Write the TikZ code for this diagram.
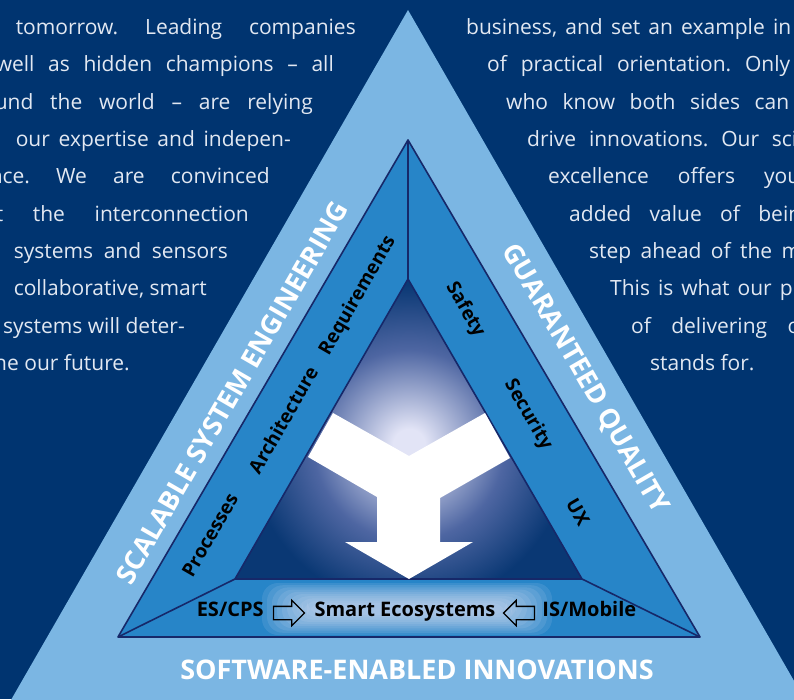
\documentclass[tikz,border=0pt]{standalone}
\usepackage{fontspec}
\setmainfont{Open Sans}
\usepackage{xcolor}
\usetikzlibrary{positioning,shapes.arrows}

\definecolor{navybg}{RGB}{0,52,112}
\definecolor{lightband}{RGB}{123,182,227}
\definecolor{midband}{RGB}{39,133,200}
\definecolor{edgeline}{RGB}{22,40,105}
\definecolor{innerdark}{RGB}{10,56,116}
\definecolor{glowmid}{RGB}{78,102,162}
\definecolor{glowc}{RGB}{226,228,246}
\definecolor{textgrey}{RGB}{226,232,242}

% radial glow of the inner triangle, at its natural size
\pgfdeclareradialshading{innerglow}{\pgfpoint{0bp}{0bp}}{%
	color(0bp)=(glowc); color(16bp)=(glowc); color(95bp)=(glowmid);
	color(160bp)=(innerdark); color(260bp)=(innerdark)}

% justified line of body text
\newcommand{\jline}[2]{\makebox[#1][s]{#2}}

\begin{document}
\frenchspacing
\begin{tikzpicture}[x=1pt, y=1pt,
	bigband/.style={white, font=\bfseries\fontsize{27}{27}\selectfont},
	tag/.style={black, font=\bfseries\fontsize{19}{19}\selectfont},
	rowtag/.style={tag, font=\bfseries\fontsize{20}{20}\selectfont,
		inner sep=1pt, text height=0.72em, text depth=0pt},
	bodyline/.style={textgrey, font=\fontsize{21}{21}\selectfont, inner sep=0pt},
	hollow/.style={single arrow, draw=black, line width=1.3pt, fill=none,
		minimum height=31pt, single arrow head extend=6pt,
		inner xsep=0pt, inner ysep=6pt}]
	
	\useasboundingbox (0,0) rectangle (794,699);
	\clip (0,0) rectangle (794,699);
	
	% Background
	\fill[navybg] (0,0) rectangle (794,699);
	
	% =========================================================
	% Outer triangle
	% =========================================================
	\fill[lightband] (408,689) -- (862,-100) -- (-46,-100) -- cycle;
	
	% =========================================================
	% Middle and inner triangle
	% =========================================================
	\coordinate (mtop) at (408,559);
	\coordinate (mleft) at (118,62);
	\coordinate (mright) at (700,62);
	\coordinate (itop) at (408,420);
	\coordinate (ileft) at (235,120);
	\coordinate (iright) at (582,120);
	
	\fill[midband] (mtop) -- (mright) -- (mleft) -- cycle;
	
	% Glowing centre
	\begin{scope}
		\clip (itop) -- (iright) -- (ileft) -- cycle;
		\node[inner sep=0pt] (glow) at (409,254) {\pgfuseshading{innerglow}};
	\end{scope}
	
	% Edges
	\draw[edgeline, line width=1.6pt, line join=round] (mtop) -- (mright) -- (mleft) -- cycle;
	\draw[edgeline, line width=1.6pt, line join=round] (itop) -- (iright) -- (ileft) -- cycle;
	\draw[edgeline, line width=1.6pt] (mtop) -- (itop);
	\draw[edgeline, line width=1.6pt] (mleft) -- (ileft);
	\draw[edgeline, line width=1.6pt] (mright) -- (iright);
	
	% Y arrow
	\fill[white] (333,286) -- (409,243) -- (485,286) -- (510,241) -- (440,201)
	-- (440,157) -- (473,157) -- (409,120) -- (345,157) -- (377,157)
	-- (377,202) -- (308,242) -- cycle;
	
	% Glow behind bottom label
	\foreach \g in {0,...,9}
	\fill[glowc, opacity=0.11, rounded corners=16pt]
	(262+5*\g,64+2.2*\g) rectangle (552-5*\g,116-2.2*\g);
	
	% =========================================================
	% Band labels
	% =========================================================
	\node[bigband, rotate=60] (scal) at (232,306) {SCALABLE SYSTEM ENGINEERING};
	\node[bigband, rotate=-60] (guar) at (585,320) {GUARANTEED QUALITY};
	\node[bigband] (soft) at (417,29) {SOFTWARE-ENABLED INNOVATIONS};
	
	\node[tag, rotate=60] (proc) at (210,164) {Processes};
	\node[tag, rotate=60] (arch) at (283,279) {Architecture};
	\node[tag, rotate=60] (requ) at (358,403) {Requirements};
	
	\node[tag, rotate=-60] (safe) at (465,389) {Safety};
	\node[tag, rotate=-60] (secu) at (528,284) {Security};
	\node[tag, rotate=-60] (ux) at (578,187) {UX};
	
	% Bottom row
	\node[rowtag] (smart) at (405,86) {Smart Ecosystems};
	\node[hollow, left=8pt of smart] (arrl) {};
	\node[rowtag, left=8pt of arrl] (escps) {ES/CPS};
	\node[hollow, shape border rotate=180, right=6pt of smart] (arrr) {};
	\node[rowtag, right=6pt of arrr] (ismob) {IS/Mobile};
	
	% =========================================================
	% Body text, left column
	% =========================================================
	\node[bodyline, anchor=base east] (l1) at (356,664) {\jline{340pt}{tomorrow. Leading companies}};
	\node[bodyline, anchor=base east] (l2) at (334,627) {\jline{338pt}{well as hidden champions -- all}};
	\node[bodyline, anchor=base east] (l3) at (313,589) {\jline{318pt}{und the world -- are relying}};
	\node[bodyline, anchor=base east] (l4) at (291,552) {\jline{275pt}{our expertise and indepen-}};
	\node[bodyline, anchor=base east] (l5) at (270,515) {\jline{280pt}{nce. We are convinced}};
	\node[bodyline, anchor=base east] (l6) at (249,477) {\jline{253pt}{t the interconnection}};
	\node[bodyline, anchor=base east] (l7) at (228,440) {\jline{214pt}{systems and sensors}};
	\node[bodyline, anchor=base east] (l8) at (207,403) {\jline{193pt}{collaborative, smart}};
	\node[bodyline, anchor=base east] (l9) at (185,365) {systems will deter-};
	\node[bodyline, anchor=base east] (l10) at (130,328) {ne our future.};
	
	% =========================================================
	% Body text, right column
	% =========================================================
	\node[bodyline, anchor=base west] (r1) at (466,664) {\jline{325pt}{business, and set an example in}};
	\node[bodyline, anchor=base west] (r2) at (487,627) {\jline{303pt}{of practical orientation. Only}};
	\node[bodyline, anchor=base west] (r3) at (506,589) {\jline{283pt}{who know both sides can}};
	\node[bodyline, anchor=base west] (r4) at (527,552) {\jline{270pt}{drive innovations. Our sci}};
	\node[bodyline, anchor=base west] (r5) at (548,515) {\jline{252pt}{excellence offers you}};
	\node[bodyline, anchor=base west] (r6) at (569,477) {\jline{232pt}{added value of bein}};
	\node[bodyline, anchor=base west] (r7) at (589,440) {\jline{212pt}{step ahead of the m}};
	\node[bodyline, anchor=base west] (r8) at (610,403) {\jline{191pt}{This is what our pr}};
	\node[bodyline, anchor=base west] (r9) at (631,365) {\jline{169pt}{of delivering o}};
	\node[bodyline, anchor=base west] (r10) at (650,328) {stands for.};
	
\end{tikzpicture}
\end{document}
